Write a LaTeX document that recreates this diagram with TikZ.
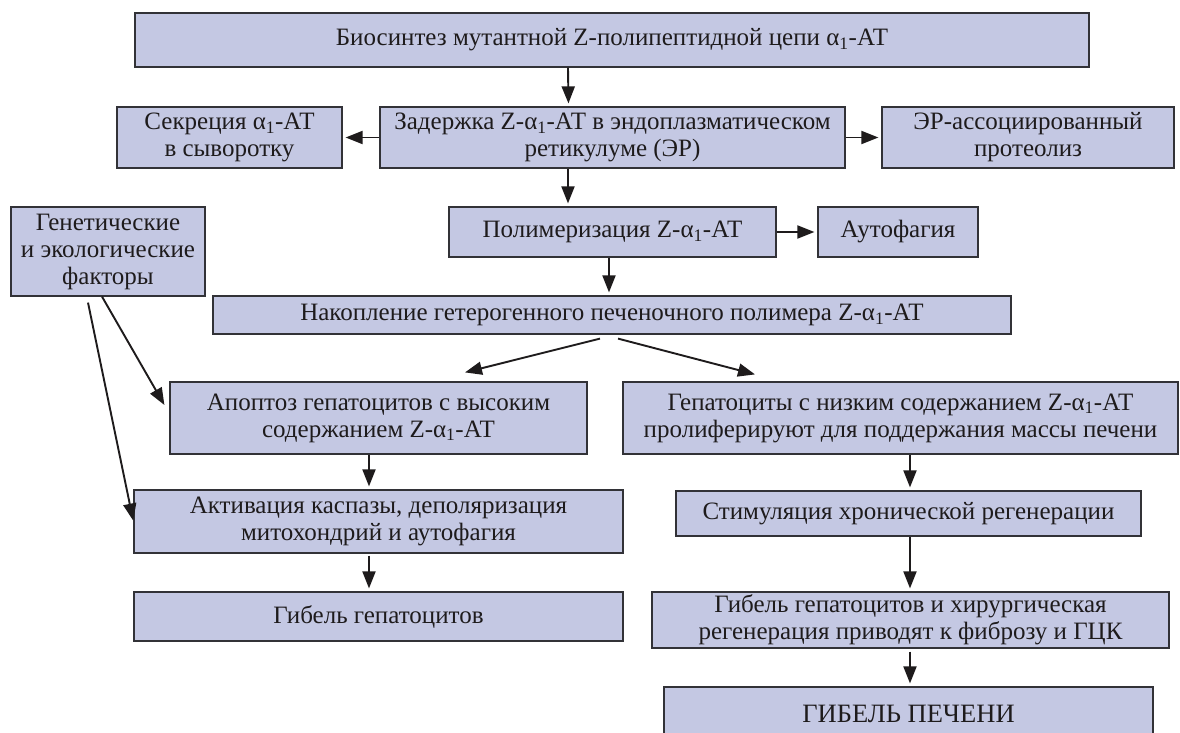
\documentclass[tikz,border=0pt]{standalone}
\usepackage{fontspec}
\setmainfont{Liberation Serif}
\usetikzlibrary{arrows.meta}
\definecolor{boxfill}{RGB}{196,200,227}
\definecolor{boxline}{RGB}{50,50,55}
\definecolor{ink}{RGB}{30,27,28}
\newcommand{\aone}{α\textsubscript{1}}
\tikzset{
  box/.style={draw=boxline, line width=1.2pt, fill=boxfill, text=ink, align=center, inner sep=0pt},
  arr/.style={draw=ink, line width=1.9pt, -{Triangle[length=17pt,width=13pt]}, shorten >=3pt}
}
\begin{document}
\begin{tikzpicture}[x=1pt,y=-1pt,font=\fontsize{25}{27}\selectfont]
\clip (0,0) rectangle (1180,732);
\fill[white] (0,0) rectangle (1180,732);
\node[box, minimum width=954pt, minimum height=54pt] (top) at (612,40) {Биосинтез мутантной Z-полипептидной цепи \aone-АТ};
\node[box, minimum width=225pt, minimum height=61pt] (sec) at (229.5,137.5) {Секреция \aone-АТ\\в сыворотку};
\node[box, minimum width=465pt, minimum height=61pt] (zad) at (612.5,137.5) {Задержка Z-\aone-АТ в эндоплазматическом\\ретикулуме (ЭР)};
\node[box, minimum width=292pt, minimum height=61pt] (er) at (1028,137.5) {ЭР-ассоциированный\\протеолиз};
\node[box, minimum width=194pt, minimum height=89pt] (gen) at (108,251.5) {Генетические\\и экологические\\факторы};
\node[box, minimum width=327pt, minimum height=50pt] (pol) at (612.5,232) {Полимеризация Z-\aone-АТ};
\node[box, minimum width=160pt, minimum height=50pt] (auto) at (898,232) {Аутофагия};
\node[box, minimum width=798pt, minimum height=38pt] (nak) at (612,315) {Накопление гетерогенного печеночного полимера Z-\aone-АТ};
\node[box, minimum width=417pt, minimum height=72pt] (apo) at (378.5,418) {Апоптоз гепатоцитов с высоким\\содержанием Z-\aone-АТ};
\node[box, minimum width=555pt, minimum height=72pt] (gep) at (900.5,418) {Гепатоциты с низким содержанием Z-\aone-АТ\\пролиферируют для поддержания массы печени};
\node[box, minimum width=489pt, minimum height=63pt] (akt) at (378.5,521.5) {Активация каспазы, деполяризация\\митохондрий и аутофагия};
\node[box, minimum width=489pt, minimum height=49pt] (gib) at (378.5,616.5) {Гибель гепатоцитов};
\node[box, minimum width=465pt, minimum height=45pt] (stim) at (908.5,513.5) {Стимуляция хронической регенерации};
\node[box, minimum width=517pt, minimum height=56pt] (hir) at (910.5,620) {Гибель гепатоцитов и хирургическая\\регенерация приводят к фиброзу и ГЦК};
\node[box, minimum width=489pt, minimum height=53pt, font=\fontsize{26.5}{28}\selectfont] (liv) at (908.5,713.5) {ГИБЕЛЬ ПЕЧЕНИ};
\draw[arr] ([xshift=-44pt]top.south) -- ([xshift=-44pt]zad.north);
\draw[arr] (zad.west) -- (sec.east);
\draw[arr] (zad.east) -- (er.west);
\draw[arr] ([xshift=-44.5pt]zad.south) -- ([xshift=-44.5pt]pol.north);
\draw[arr] (pol.east) -- (auto.west);
\draw[arr] ([xshift=-3.5pt]pol.south) -- ([xshift=-3pt]nak.north);
\draw[arr, shorten >=0pt] ([xshift=-12pt,yshift=-4pt]nak.south) -- ([xshift=86.5pt,yshift=9pt]apo.north);
\draw[arr, shorten >=0pt] ([xshift=6pt,yshift=-4pt]nak.south) -- ([xshift=-145.5pt,yshift=7pt]gep.north);
\draw[arr, shorten >=0pt] ([xshift=-6pt]gen.south) -- ([xshift=-5pt,yshift=13pt]apo.west);
\draw[arr, shorten >=1pt] ([xshift=-20pt,yshift=-6pt]gen.south) -- (akt.west);
\draw[arr] ([xshift=-9.5pt]apo.south) -- ([xshift=-9.5pt]akt.north);
\draw[arr] ([xshift=-9.5pt,yshift=-2pt]akt.south) -- ([xshift=-9.5pt]gib.north);
\draw[arr] ([xshift=9.5pt]gep.south) -- ([xshift=1.5pt]stim.north);
\draw[arr] ([xshift=1.5pt]stim.south) -- ([xshift=-0.5pt]hir.north);
\draw[arr] ([xshift=-0.5pt,yshift=-3pt]hir.south) -- ([xshift=1.5pt]liv.north);
\end{tikzpicture}
\end{document}
